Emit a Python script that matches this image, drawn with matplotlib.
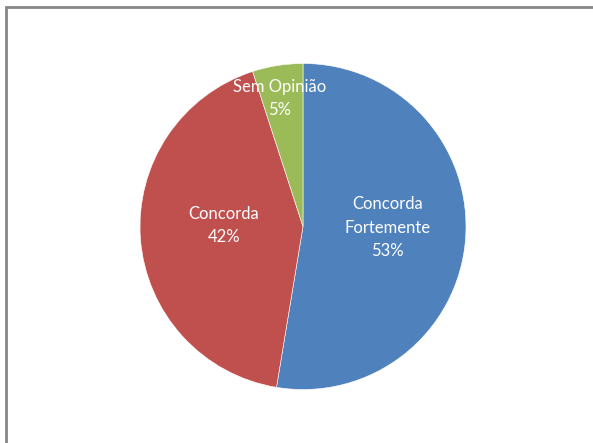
import matplotlib.pyplot as plt
import numpy as np
from matplotlib.patches import Rectangle

# dados (percentagens estimadas a partir das fatias; rótulos arredondados)
categorias = ['Concorda\nFortemente', 'Concorda', 'Sem Opinião']
valores = [52.6, 42.4, 5.0]
cores = ['#4F81BD', '#C0504D', '#9BBB59']
# distância e desvio angular dos rótulos (posição como no Excel)
dist_rotulo = [0.52, 0.485, 0.80]
desvio_ang = [4.0, -5.0, 1.5]

plt.rcParams['font.family'] = ['Lato', 'DejaVu Sans']

fig = plt.figure(figsize=(5.93, 4.43), dpi=100)

# moldura cinza (cortada à direita e em baixo)
fig.patches.append(Rectangle((6 / 593, -0.05), 1.1, 1 - 7 / 443 + 0.05,
                             transform=fig.transFigure, fill=False,
                             edgecolor='#868686', linewidth=2.0))

ax = fig.add_axes([(303 - 163) / 593, (443 - 226.5 - 163) / 443, 326 / 593, 326 / 443])
wedges, _ = ax.pie(valores, colors=cores, startangle=90, counterclock=False,
                   radius=1, wedgeprops=dict(edgecolor='white', linewidth=0.4))
ax.set_xlim(-1, 1)
ax.set_ylim(-1, 1)
ax.set_aspect('equal')
ax.axis('off')

# rótulos dentro das fatias
for w, cat, v, d, da in zip(wedges, categorias, valores, dist_rotulo, desvio_ang):
    ang = np.deg2rad((w.theta1 + w.theta2) / 2 + da)
    ax.text(d * np.cos(ang), d * np.sin(ang), f'{cat}\n{v:.0f}%',
            ha='center', va='center', color='white', fontsize=12, linespacing=1.55)

fig.savefig('out.png', dpi=100)
